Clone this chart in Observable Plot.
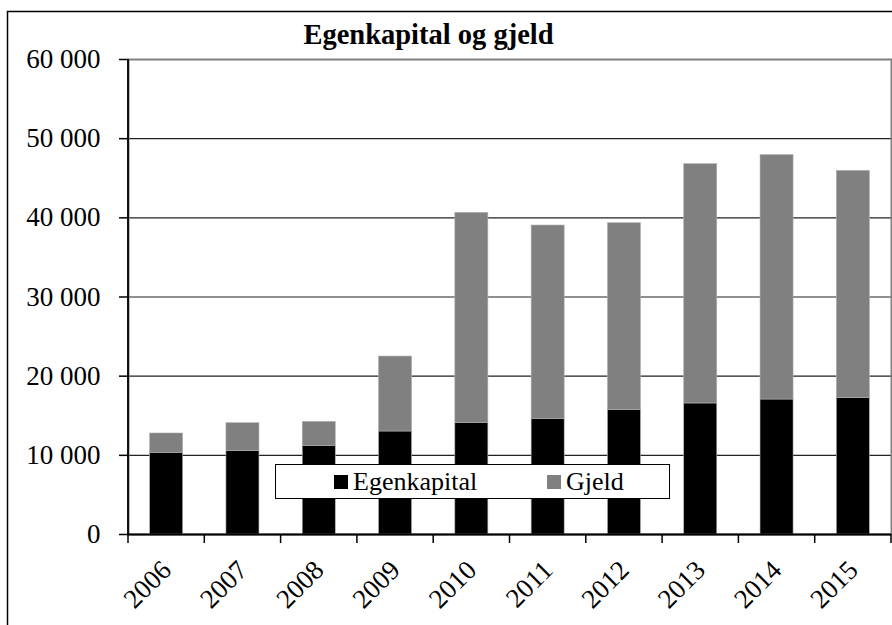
<!DOCTYPE html>
<html>
<head>
<meta charset="utf-8">
<script src="https://cdn.jsdelivr.net/npm/d3@7"></script>
<script src="https://cdn.jsdelivr.net/npm/@observablehq/plot@0.6"></script>
<style>
  body { margin: 0; }
</style>
</head>
<body>
<div id="chart"></div>
<script>
const title = "Egenkapital og gjeld";
const years = ["2006", "2007", "2008", "2009", "2010", "2011", "2012", "2013", "2014", "2015"];
const egenkapital = [10320, 10530, 11200, 13010, 14100, 14610, 15700, 16550, 17050, 17220];
const gjeld = [2440, 3530, 3030, 9470, 26530, 24420, 23620, 30230, 30870, 28720];
const series = ["Egenkapital", "Gjeld"];
const colors = ["#000000", "#808080"];
const yTicks = [0, 10000, 20000, 30000, 40000, 50000, 60000];

const rows = years.flatMap((y, i) => [
  {year: y, series: series[0], value: egenkapital[i]},
  {year: y, series: series[1], value: gjeld[i]}
]);

const fmt = d => d3.format(",")(d).replace(/,/g, " ");
const FONT = "Liberation Serif";

const chart = Plot.plot({
  width: 892,
  height: 625,
  marginLeft: 128,
  marginRight: 1,
  marginTop: 59,
  marginBottom: 91,
  style: {fontFamily: FONT, fontSize: "27px", background: "white"},
  x: {domain: years, paddingInner: 0.567, paddingOuter: 0.2835, round: false, label: null},
  y: {domain: [0, 60000], label: null},
  color: {domain: series, range: colors},
  marks: [
    Plot.gridY(yTicks.slice(1, -1), {stroke: "#222", strokeOpacity: 1, strokeWidth: 1.2}),
    Plot.frame({stroke: "#808080", strokeWidth: 2}),
    Plot.barY(rows, {x: "year", y: "value", fill: "series", order: series, stroke: "#b0b0b0", strokeWidth: 0.6}),
    Plot.axisY(yTicks, {tickSize: 9, tickPadding: 19, tickFormat: fmt, stroke: "black", strokeWidth: 1.5, fontFamily: FONT, fontSize: 27, fill: "black"}),
    Plot.axisX({tickSize: 0, tickRotate: -45, tickPadding: 31, fontFamily: FONT, fontSize: 27, fill: "black"}),
    Plot.ruleY([0], {stroke: "black", strokeWidth: 1.8}),
    Plot.text([title], {frameAnchor: "top-left", dx: 300, dy: -25, lineAnchor: "middle", textAnchor: "middle", fontFamily: FONT, fontWeight: "bold", fontSize: 28.5, fill: "black"})
  ]
});

const svg = d3.select(chart);
const xs = chart.scale("x");
const ys = chart.scale("y");
const step = xs.step, bw = xs.bandwidth;
const half = (step - bw) / 2;
const y0 = ys.apply(0);
const yTop = ys.apply(60000);
const gExtra = svg.append("g");
// boundary ticks on x axis
const bounds = years.map(y => xs.apply(y) - half).concat([xs.apply(years[years.length - 1]) + bw + half]);
gExtra.selectAll("line.bt").data(bounds).join("line")
  .attr("x1", d => d).attr("x2", d => d)
  .attr("y1", y0).attr("y2", y0 + 9)
  .attr("stroke", "black").attr("stroke-width", 1.5);
// y axis line
gExtra.append("line")
  .attr("x1", bounds[0]).attr("x2", bounds[0])
  .attr("y1", yTop).attr("y2", y0)
  .attr("stroke", "black").attr("stroke-width", 1.8);

// legend
const lg = svg.append("g").attr("font-family", FONT).attr("font-size", 26).attr("text-anchor", "start");
lg.append("rect").attr("x", 275.5).attr("y", 464.5).attr("width", 394).attr("height", 34)
  .attr("fill", "white").attr("stroke", "black").attr("stroke-width", 1);
const lx = [334, 547];
series.forEach((s, i) => {
  lg.append("rect").attr("x", lx[i]).attr("y", 475).attr("width", 14).attr("height", 14).attr("fill", colors[i]);
  lg.append("text").attr("x", lx[i] + 19).attr("y", 490).attr("fill", "black").attr("font-family", FONT).text(s);
});

// outer chart border
svg.append("rect").attr("x", 7.5).attr("y", 11.5).attr("width", 1000).attr("height", 1000)
  .attr("fill", "none").attr("stroke", "black").attr("stroke-width", 1.5);

document.getElementById("chart").appendChild(chart);
</script>
</body>
</html>
